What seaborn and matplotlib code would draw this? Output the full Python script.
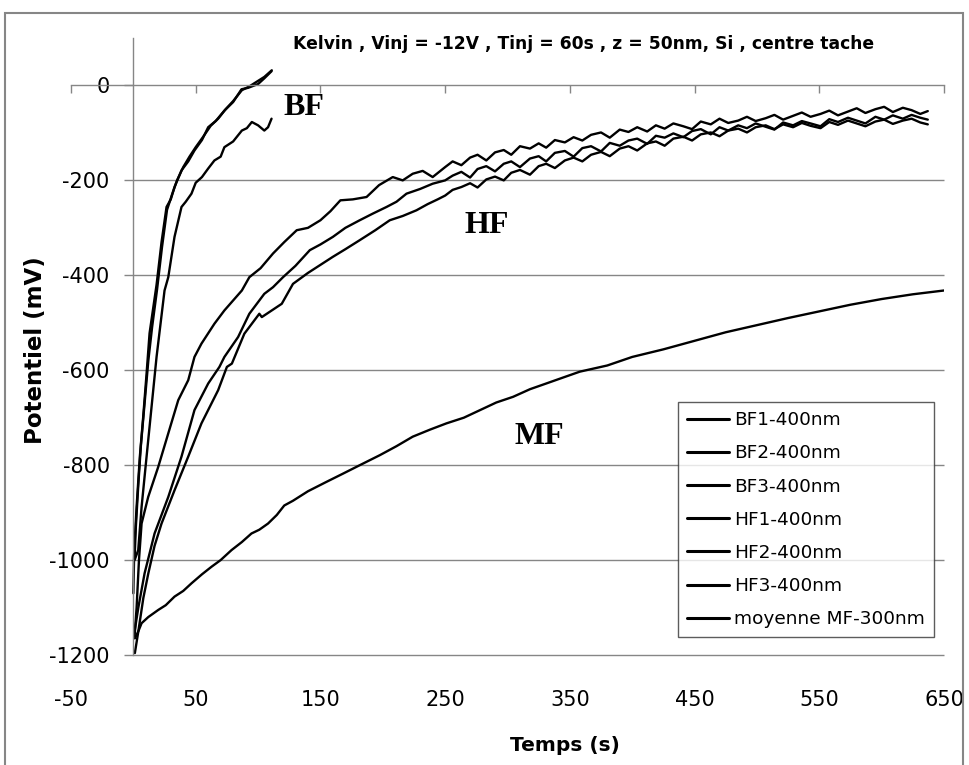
import pandas as pd
import matplotlib
matplotlib.use("Agg")
import matplotlib.pyplot as plt
from matplotlib.patches import Rectangle
import seaborn as sns

sns.set_theme(style="white")
plt.rcParams["font.family"] = ["DejaVu Sans"]
plt.rcParams["axes.unicode_minus"] = False
plt.rcParams["text.color"] = "black"
plt.rcParams["xtick.color"] = "black"
plt.rcParams["ytick.color"] = "black"

# --- Daten ---
bf1_t = [0, 0.7, 2.6, 5.2, 7.9, 10.6, 13, 18.6, 22.6, 26.6, 30, 33, 38.6, 44, 49, 55, 60, 66, 73, 80, 86.7, 92, 100, 105, 110.8]
bf1_v = [-1070, -979, -888, -782, -698, -607, -522, -420, -330, -256, -240, -214, -179, -160, -137, -115, -88, -75, -53, -35, -8, -5, 3, 15, 30]

bf2_t = [1, 2, 4, 6, 9, 12, 15, 19, 23, 27, 31, 35, 40, 45, 50, 56, 62, 68, 74, 80, 87, 93, 99, 105, 111]
bf2_v = [-995, -930, -840, -760, -670, -580, -510, -430, -340, -262, -230, -200, -172, -150, -130, -108, -85, -70, -50, -33, -10, -2, 8, 18, 32]

bf3_t = [1, 3.9, 6.6, 10.6, 14.6, 18.6, 25, 28, 33, 38.6, 42, 46.6, 50, 55, 60, 65, 70, 73, 80, 87, 91, 95, 100, 105, 108, 110.8]
bf3_v = [-1000, -979, -888, -782, -677, -572, -432, -404, -319, -256, -245, -228, -205, -193, -175, -158, -150, -130, -118, -95, -90, -77, -84, -95, -88, -70]

# gemeinsame Zeitpunkte der HF-Kurven ab 250 s
hf_t_late = [250, 256, 263, 270, 276, 283, 290, 297, 303, 310, 318, 325, 331, 338, 346, 353, 360, 367, 375, 382,
             390, 397, 404, 412, 419, 426, 433, 441, 448, 455, 463, 470, 477, 485, 492, 499, 507, 514, 521, 529,
             536, 543, 551, 558, 565, 573, 580, 587, 595, 602, 609, 617, 624, 631, 637]

hf1_t = [1, 2.6, 4.5, 6.6, 11.9, 19.9, 28, 36, 44, 49, 54.6, 65, 73, 87, 93, 102, 112, 121, 131, 140, 150, 158, 166, 176,
         187, 197, 208, 216, 224, 232, 240] + hf_t_late
hf1_v = [-1160, -1100, -1000, -923, -867, -804, -733, -663, -621, -572, -544, -502, -474, -432, -404, -385, -354, -330, -305, -300, -284, -265, -242, -240,
         -235, -210, -193, -200, -186, -180, -193,
         -172, -160, -168, -152, -146, -158, -141, -136, -146, -128, -133, -122, -131, -115, -120, -109, -116, -104, -99, -110,
         -93, -98, -88, -97, -84, -91, -80, -86, -92, -76, -82, -70, -79, -74, -66, -75, -69, -62, -72, -64,
         -57, -66, -60, -53, -63, -55, -48, -58, -50, -45, -56, -47, -52, -60, -54]

hf2_t = [1, 4, 9, 17, 28, 38.6, 49, 60, 69, 73, 84, 93, 105, 112, 120, 130, 141.5, 150, 160, 170, 181.5, 192, 203, 211,
         219, 230, 240] + hf_t_late
hf2_v = [-1150, -1100, -1028, -944, -867, -782, -684, -628, -593, -572, -530, -481, -439, -425, -404, -380, -347, -335, -319, -300, -284, -270, -256, -245,
         -228, -218, -207,
         -200, -190, -182, -194, -176, -170, -181, -165, -160, -172, -154, -149, -160, -142, -138, -150, -132, -128, -139, -121,
         -127, -116, -112, -123, -106, -110, -101, -109, -96, -92, -103, -88, -95, -84, -90, -80, -87, -93, -78, -84,
         -75, -80, -86, -71, -77, -68, -74, -80, -66, -72, -63, -70, -62, -68, -72]

hf3_t = [1.2, 4, 8, 12, 17, 22.6, 33, 44, 54.6, 68, 75, 79, 89, 101, 103, 119, 128, 140, 150, 160, 170, 181.5, 194, 205.6,
         216, 227, 236, 244] + hf_t_late
hf3_v = [-1196, -1150, -1080, -1028, -970, -923, -853, -782, -712, -642, -593, -586, -523, -481, -488, -460, -418, -395, -378, -361, -345, -326, -305, -284,
         -275, -263, -250, -240,
         -232, -220, -214, -206, -215, -198, -192, -200, -184, -178, -188, -170, -165, -174, -158, -152, -160, -146, -140, -149,
         -133, -128, -137, -122, -118, -127, -112, -108, -116, -103, -99, -107, -95, -91, -99, -88, -84, -92, -82, -88,
         -79, -85, -90, -77, -83, -74, -80, -86, -76, -72, -81, -74, -70, -78, -82]

mf_t = [1.2, 4, 6.6, 12, 20, 26, 33, 40, 46.6, 55, 62.7, 70, 78.7, 87, 94.7, 101, 108, 115, 121, 128, 140, 155, 168, 181.6,
        197.6, 211, 224, 238, 251, 265, 278, 291, 304.5, 318, 331, 345, 358, 380, 400, 425, 450, 475, 500, 525, 550, 575,
        600, 625, 650]
mf_v = [-1165, -1150, -1133, -1120, -1105, -1095, -1077, -1065, -1049, -1030, -1014, -1000, -979, -962, -944, -936, -923, -905, -885, -875, -855, -835, -818, -800,
        -779, -760, -740, -725, -712, -700, -684, -668, -656, -640, -628, -615, -603, -590, -572, -556, -538, -520, -505, -490, -476, -462,
        -450, -440, -432]

series = {
    "BF1-400nm": (bf1_t, bf1_v),
    "BF2-400nm": (bf2_t, bf2_v),
    "BF3-400nm": (bf3_t, bf3_v),
    "HF1-400nm": (hf1_t, hf1_v),
    "HF2-400nm": (hf2_t, hf2_v),
    "HF3-400nm": (hf3_t, hf3_v),
    "moyenne MF-300nm": (mf_t, mf_v),
}

x_ticks = [-50, 50, 150, 250, 350, 450, 550, 650]
y_ticks = [-1200, -1000, -800, -600, -400, -200, 0]

df = pd.concat(
    [pd.DataFrame({"Temps": t, "Potentiel": v, "serie": name}) for name, (t, v) in series.items()],
    ignore_index=True,
)

grey = "#868686"

# --- Diagramm ---
fig = plt.figure(figsize=(9.69, 7.65), dpi=100)
ax = fig.add_axes([71 / 969, 1 - 655 / 765, 873 / 969, 617 / 765])

ax.hlines(y_ticks[:-1], 0, 650, color=grey, lw=1, zorder=0, clip_on=False)

sns.lineplot(data=df, x="Temps", y="Potentiel", hue="serie", palette=["black"] * 7,
             estimator=None, sort=False, lw=1.7, ax=ax)

ax.set_xlim(-50, 650)
ax.set_ylim(-1200, 100)
ax.set_xticks(x_ticks)
ax.set_yticks(y_ticks)
ax.set_xlabel("")
ax.set_ylabel("")

for s in ["top", "right"]:
    ax.spines[s].set_visible(False)
ax.spines["left"].set_position(("data", 0))
ax.spines["bottom"].set_position(("data", 0))
for s in ["left", "bottom"]:
    ax.spines[s].set_color(grey)
    ax.spines[s].set_linewidth(1)
ax.tick_params(axis="x", direction="out", length=6, color=grey, width=1, labelbottom=False, bottom=True)
ax.tick_params(axis="y", direction="out", length=6.5, color=grey, width=1, left=True,
               labelsize=15, pad=10.5, labelcolor="black")

sec = ax.secondary_xaxis("bottom")
sec.set_xticks(x_ticks)
sec.tick_params(length=0, pad=25, labelsize=15, labelcolor="black")
sec.spines["bottom"].set_visible(False)

# Beschriftungen
ax.text(136.7, -63, "BF", family="Liberation Serif", weight="bold", fontsize=23, ha="center", va="baseline")
ax.text(283.4, -311, "HF", family="Liberation Serif", weight="bold", fontsize=23, ha="center", va="baseline")
ax.text(325.9, -756, "MF", family="Liberation Serif", weight="bold", fontsize=23, ha="center", va="baseline")

fig.text(583.5 / 969, 1 - 49 / 765, "Kelvin , Vinj = -12V , Tinj = 60s , z = 50nm, Si , centre tache",
         ha="center", va="baseline", fontsize=12.3, weight="bold")
fig.text(36 / 969, 1 - 350 / 765, "Potentiel (mV)", rotation=90, ha="center", va="center",
         fontsize=16.5, weight="bold")
fig.text(565 / 969, 1 - 751 / 765, "Temps (s)", ha="center", va="baseline", fontsize=14.5, weight="bold")

leg = ax.legend(loc="upper right", bbox_to_anchor=(934 / 969, 1 - 402 / 765),
                bbox_transform=fig.transFigure, fontsize=13.3, frameon=True, fancybox=False,
                edgecolor="#333333", handlelength=2.3, handletextpad=0.25, labelspacing=0.82,
                borderpad=0.5, borderaxespad=0)
leg.get_frame().set_linewidth(1)
for line in leg.get_lines():
    line.set_linewidth(2.2)

# Rahmen um das ganze Diagramm
fig.patches.append(Rectangle((5 / 969, -0.05), 958 / 969, 1.05 - 13 / 765, transform=fig.transFigure,
                             fill=False, edgecolor=grey, lw=1.5))

plt.savefig("out.png", dpi=100)
